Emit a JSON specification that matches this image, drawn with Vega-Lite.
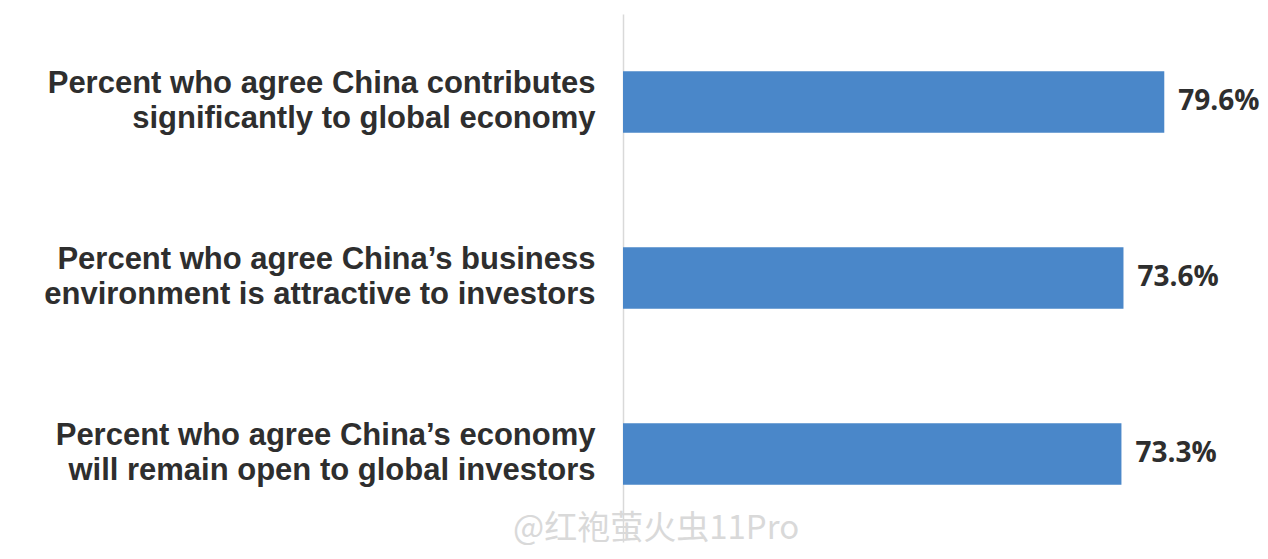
{
  "$schema": "https://vega.github.io/schema/vega-lite/v6.json",
  "autosize": {"type": "none"},
  "padding": {"left": 623, "top": 14, "right": 33, "bottom": 17},
  "width": 612,
  "height": 528,
  "background": "white",
  "config": {"view": {"stroke": null}},
  "title": {
    "text": "@红袍萤火虫11Pro",
    "orient": "bottom",
    "anchor": "start",
    "frame": "group",
    "font": "Noto Sans CJK SC",
    "fontSize": 33,
    "fontWeight": "normal",
    "color": "#d9d9d9",
    "dx": -110,
    "offset": -29
  },
  "data": {
    "values": [
      {"label": "Percent who agree China contributes|significantly to global economy", "value": 0.796},
      {"label": "Percent who agree China’s business|environment is attractive to investors", "value": 0.736},
      {"label": "Percent who agree China’s economy|will remain open to global investors", "value": 0.733}
    ]
  },
  "encoding": {
    "y": {
      "field": "label",
      "type": "nominal",
      "sort": null,
      "scale": {"paddingInner": 0.65, "paddingOuter": 0.325},
      "axis": {
        "title": null,
        "labelExpr": "split(datum.label, '|')",
        "labelFont": "Liberation Sans",
        "labelFontWeight": "bold",
        "labelFontSize": 31,
        "labelColor": "#2e2e2e",
        "labelLineHeight": 35,
        "labelPadding": 28,
        "labelOffset": -18,
        "labelLimit": 0,
        "ticks": false,
        "domainColor": "#d9d9d9",
        "domainWidth": 1.5,
        "grid": false
      }
    },
    "x": {
      "field": "value",
      "type": "quantitative",
      "scale": {"domain": [0, 0.9]},
      "axis": null
    }
  },
  "layer": [
    {"mark": {"type": "bar", "color": "#4a87c9"}},
    {
      "mark": {"type": "text", "align": "left", "baseline": "middle", "dx": 14, "font": "Open Sans", "fontWeight": "bold", "fontSize": 28, "color": "#2e2e2e"},
      "encoding": {"text": {"field": "value", "type": "quantitative", "format": ".1%"}}
    }
  ]
}
